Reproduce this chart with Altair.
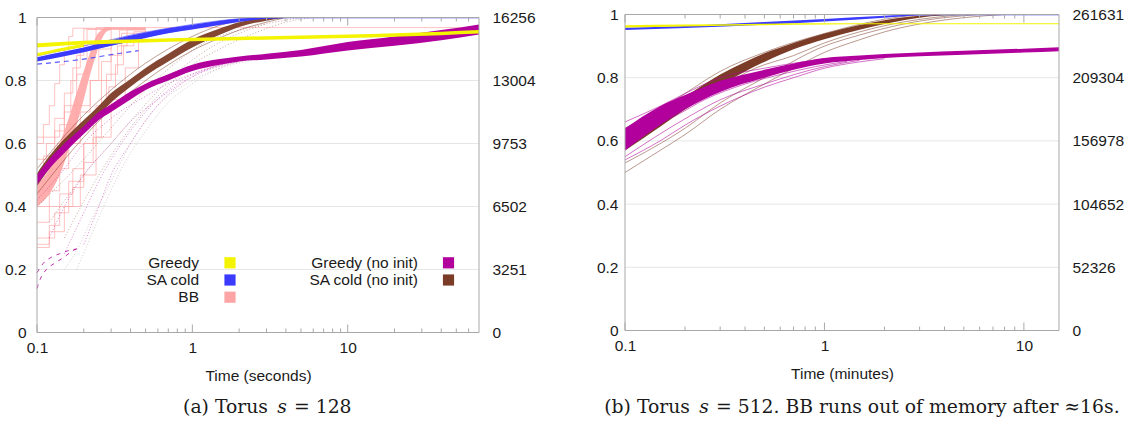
import altair as alt
import pandas as pd

FONT = "Liberation Sans"
SERIF = "DejaVu Serif"
TXT = "#1a1a1a"
AXC = "#a8a8a8"
GRIDC = "#e6e6e6"
FS = 15.5
CAP_FS = 18.8

C_GREEDY = "#f4f400"
C_SA = "#3b3bff"
C_BB = "#ffa4a4"
C_GRN = "#b1009b"
C_SAN = "#7b3c27"
C_GRAY = "#b8a0ac"

# ---------------- axes / text ----------------
Y_TICKS = [0, 0.2, 0.4, 0.6, 0.8, 1]
X_TICKS = [0.1, 1, 10]
A_RIGHT_LABELS = ["0", "3251", "6502", "9753", "13004", "16256"]
B_RIGHT_LABELS = ["0", "52326", "104652", "156978", "209304", "261631"]
A_MINOR = [0.2, 0.3, 0.4, 0.5, 0.6, 0.7, 0.8, 0.9, 2, 3, 4, 5, 6, 7, 8, 9, 20, 30, 40, 50, 60]
B_MINOR = [0.2, 0.3, 0.4, 0.5, 0.6, 0.7, 0.8, 0.9, 2, 3, 4, 5, 6, 7, 8, 9]
A_XMAX = 70
B_XMAX = 15
A_XTITLE = "Time (seconds)"
B_XTITLE = "Time (minutes)"
# caption pieces: text before the math variable, the (italic) variable, text after it
A_CAPTION_PARTS = ["(a) Torus", "s", "= 128"]
B_CAPTION_PARTS = ["(b) Torus", "s", "= 512. BB runs out of memory after \u224816s."]

LEGEND_LABELS_1 = ["Greedy", "SA cold", "BB"]
LEGEND_COLORS_1 = [C_GREEDY, C_SA, C_BB]
LEGEND_LABELS_2 = ["Greedy (no init)", "SA cold (no init)"]
LEGEND_COLORS_2 = [C_GRN, C_SAN]

# ---------------- panel (a) data ----------------
A_GREEDY_T = [0.1, 0.15, 0.2, 0.3, 0.5, 1, 2, 5, 10, 20, 40, 70]
A_GREEDY_LO = [0.905, 0.911, 0.914, 0.917, 0.921, 0.925, 0.928, 0.932, 0.935, 0.939, 0.944, 0.949]
A_GREEDY_HI = [0.918, 0.923, 0.926, 0.929, 0.932, 0.936, 0.939, 0.943, 0.946, 0.950, 0.955, 0.960]
A_GREEDY_RUN_T = [[0.1, 0.12, 0.15, 0.2]]
A_GREEDY_RUN_V = [[0.882, 0.890, 0.900, 0.912]]

A_SA_T = [0.1, 0.15, 0.2, 0.3, 0.5, 0.7, 1, 1.5, 2, 3, 4, 70]
A_SA_LO = [0.860, 0.877, 0.890, 0.910, 0.935, 0.950, 0.962, 0.976, 0.986, 0.996, 0.998, 0.998]
A_SA_HI = [0.874, 0.892, 0.905, 0.928, 0.952, 0.966, 0.977, 0.990, 0.996, 1.0, 1.0, 1.0]
A_SA_RUN_T = [[0.1, 0.13, 0.2, 0.3, 0.5, 0.8, 1.2, 2, 3.5],
              [0.1, 0.15, 0.25, 0.4, 0.7, 1, 1.5, 2.5]]
A_SA_RUN_V = [[0.865, 0.875, 0.893, 0.912, 0.938, 0.958, 0.973, 0.99, 1.0],
              [0.878, 0.897, 0.920, 0.944, 0.966, 0.978, 0.99, 1.0]]
A_SA_DASH_T = [[0.1, 0.2, 0.3, 0.45]]
A_SA_DASH_V = [[0.852, 0.868, 0.882, 0.895]]

A_SAN_T = [0.1, 0.12, 0.15, 0.2, 0.25, 0.3, 0.4, 0.5, 0.7, 1, 1.5, 2, 3, 4]
A_SAN_LO = [0.465, 0.52, 0.58, 0.64, 0.69, 0.73, 0.78, 0.815, 0.86, 0.905, 0.945, 0.97, 0.99, 0.999]
A_SAN_HI = [0.505, 0.56, 0.615, 0.675, 0.72, 0.76, 0.805, 0.84, 0.885, 0.93, 0.965, 0.985, 0.998, 1.0]
A_SAN_RUN_T = [[0.1, 0.2, 0.3, 0.5, 0.7, 1, 1.5, 2.5],
               [0.1, 0.2, 0.3, 0.5, 0.7, 1, 1.5, 2, 3, 4]]
A_SAN_RUN_V = [[0.52, 0.69, 0.77, 0.855, 0.90, 0.94, 0.975, 1.0],
               [0.44, 0.62, 0.71, 0.80, 0.85, 0.895, 0.935, 0.96, 0.985, 1.0]]
A_SAN_DOT_T = [[0.1, 0.2, 0.3, 0.5, 0.8, 1.2, 2, 3, 5],
               [0.15, 0.25, 0.4, 0.6, 1, 1.5, 2.5, 4, 6],
               [0.12, 0.2, 0.3, 0.45, 0.7, 1.1, 1.8, 3]]
A_SAN_DOT_V = [[0.40, 0.55, 0.65, 0.77, 0.86, 0.92, 0.96, 0.98, 1.0],
               [0.30, 0.50, 0.65, 0.75, 0.85, 0.90, 0.95, 0.985, 1.0],
               [0.35, 0.50, 0.60, 0.70, 0.80, 0.88, 0.94, 0.98]]

A_GRN_T = [0.1, 0.12, 0.15, 0.2, 0.25, 0.3, 0.4, 0.5, 0.7, 1, 1.5, 2, 3, 5, 10, 20, 40, 70]
A_GRN_LO = [0.47, 0.52, 0.57, 0.63, 0.675, 0.70, 0.74, 0.77, 0.80, 0.83, 0.85, 0.86, 0.867, 0.876, 0.895, 0.91, 0.928, 0.946]
A_GRN_HI = [0.50, 0.55, 0.60, 0.655, 0.70, 0.725, 0.765, 0.79, 0.82, 0.85, 0.868, 0.876, 0.885, 0.897, 0.922, 0.94, 0.96, 0.978]
A_GRN_DOT_T = [[0.1, 0.15, 0.2, 0.3, 0.5, 0.7, 1, 1.5, 2],
               [0.12, 0.15, 0.2, 0.3, 0.4, 0.6, 0.9, 1.3, 2],
               [0.15, 0.2, 0.25, 0.35, 0.5, 0.7, 1, 1.5, 2.5],
               [0.2, 0.25, 0.3, 0.4, 0.55, 0.8, 1.2, 1.8, 3]]
A_GRN_DOT_V = [[0.42, 0.52, 0.60, 0.68, 0.75, 0.79, 0.82, 0.845, 0.86],
               [0.30, 0.40, 0.50, 0.60, 0.67, 0.74, 0.80, 0.84, 0.86],
               [0.25, 0.38, 0.48, 0.60, 0.70, 0.77, 0.82, 0.85, 0.87],
               [0.28, 0.40, 0.50, 0.60, 0.70, 0.78, 0.83, 0.86, 0.875]]
A_GRN_DASH_T = [[0.1, 0.105, 0.115, 0.13, 0.15, 0.17, 0.19],
                [0.1, 0.11, 0.125, 0.14, 0.16, 0.18]]
A_GRN_DASH_V = [[0.14, 0.17, 0.20, 0.22, 0.24, 0.26, 0.27],
                [0.19, 0.22, 0.24, 0.25, 0.26, 0.265]]
A_GRAY_DOT_T = [[0.15, 0.18, 0.22, 0.3, 0.4, 0.6, 1, 1.8, 3],
                [0.18, 0.22, 0.28, 0.35, 0.5, 0.7, 1, 1.5, 2.5]]
A_GRAY_DOT_V = [[0.20, 0.26, 0.35, 0.48, 0.60, 0.72, 0.80, 0.85, 0.87],
                [0.20, 0.30, 0.42, 0.52, 0.64, 0.73, 0.79, 0.84, 0.87]]

A_BB_T = [0.1, 0.12, 0.14, 0.16, 0.18, 0.2, 0.22, 0.24, 0.26, 0.28, 0.3]
A_BB_LO = [0.40, 0.44, 0.50, 0.58, 0.66, 0.74, 0.82, 0.88, 0.93, 0.955, 0.96]
A_BB_HI = [0.47, 0.52, 0.60, 0.68, 0.76, 0.83, 0.89, 0.94, 0.96, 0.968, 0.968]
A_BB_RUN_T = [[0.1, 0.11, 0.12, 0.13, 0.14, 0.15, 0.16, 0.17, 0.5],
              [0.1, 0.115, 0.13, 0.15, 0.17, 0.19, 0.21, 0.5],
              [0.1, 0.12, 0.14, 0.16, 0.19, 0.22, 0.25, 0.3, 0.5],
              [0.1, 0.13, 0.16, 0.2, 0.24, 0.28, 0.33, 0.38, 0.5],
              [0.1, 0.12, 0.15, 0.19, 0.24, 0.3, 0.37, 0.45, 0.5],
              [0.1, 0.11, 0.13, 0.15, 0.18, 0.21, 0.24, 0.5],
              [0.1, 0.14, 0.18, 0.22, 0.26, 0.3, 0.34, 0.5],
              [0.1, 0.12, 0.14, 0.17, 0.2, 0.23, 0.26, 0.29, 0.32, 0.36, 0.42, 0.5],
              [0.1, 0.12, 0.135, 0.15, 0.165, 0.18, 0.2, 0.5],
              [0.1, 0.14, 0.17, 0.2, 0.23, 0.26, 0.3, 0.35, 0.5],
              [0.27, 70]]
A_BB_RUN_V = [[0.60, 0.66, 0.72, 0.79, 0.85, 0.90, 0.94, 0.966, 0.966],
              [0.55, 0.60, 0.68, 0.76, 0.84, 0.91, 0.962, 0.962],
              [0.35, 0.45, 0.52, 0.60, 0.70, 0.80, 0.90, 0.965, 0.965],
              [0.30, 0.38, 0.48, 0.60, 0.72, 0.82, 0.91, 0.962, 0.962],
              [0.27, 0.32, 0.40, 0.50, 0.62, 0.74, 0.84, 0.93, 0.958],
              [0.50, 0.56, 0.64, 0.72, 0.82, 0.90, 0.968, 0.968],
              [0.62, 0.66, 0.72, 0.80, 0.86, 0.92, 0.96, 0.96],
              [0.28, 0.34, 0.40, 0.46, 0.54, 0.62, 0.70, 0.78, 0.85, 0.91, 0.955, 0.955],
              [0.45, 0.52, 0.60, 0.70, 0.80, 0.88, 0.964, 0.964],
              [0.40, 0.44, 0.52, 0.60, 0.70, 0.80, 0.88, 0.95, 0.96],
              [0.968, 0.968]]

# ---------------- panel (b) data ----------------
B_GREEDY_T = [0.1, 0.2, 0.5, 1, 2, 15]
B_GREEDY_LO = [0.959, 0.962, 0.966, 0.968, 0.969, 0.969]
B_GREEDY_HI = [0.966, 0.968, 0.971, 0.972, 0.972, 0.972]

B_SA_T = [0.1, 0.2, 0.5, 1, 2, 3, 4, 15]
B_SA_LO = [0.951, 0.957, 0.968, 0.978, 0.990, 0.997, 0.998, 0.998]
B_SA_HI = [0.958, 0.964, 0.976, 0.986, 0.996, 1.0, 1.0, 1.0]

B_SAN_T = [0.1, 0.15, 0.2, 0.3, 0.4, 0.5, 0.7, 1, 1.5, 2, 3, 5, 15]
B_SAN_LO = [0.57, 0.645, 0.70, 0.775, 0.82, 0.85, 0.89, 0.922, 0.952, 0.97, 0.99, 0.999, 0.999]
B_SAN_HI = [0.62, 0.69, 0.74, 0.81, 0.85, 0.877, 0.91, 0.94, 0.967, 0.982, 0.996, 1.0, 1.0]
B_SAN_RUN_T = [[0.1, 0.15, 0.2, 0.3, 0.5, 1, 2, 3],
               [0.1, 0.15, 0.2, 0.3, 0.5, 0.7, 1, 1.5, 2, 3, 5, 8],
               [0.1, 0.2, 0.3, 0.5, 1, 1.5, 2.5, 4, 6],
               [0.1, 0.13, 0.2, 0.3, 0.45, 0.7, 1, 1.5, 2.2, 3.5, 5]]
B_SAN_RUN_V = [[0.64, 0.70, 0.75, 0.82, 0.88, 0.94, 0.985, 1.0],
               [0.50, 0.57, 0.62, 0.70, 0.78, 0.83, 0.88, 0.92, 0.945, 0.97, 0.99, 1.0],
               [0.53, 0.64, 0.72, 0.80, 0.90, 0.935, 0.97, 0.99, 1.0],
               [0.60, 0.63, 0.70, 0.77, 0.83, 0.87, 0.91, 0.945, 0.97, 0.99, 1.0]]

B_GRN_T = [0.1, 0.15, 0.2, 0.3, 0.5, 0.7, 1, 1.5, 2, 3, 5, 10, 15]
B_GRN_LO = [0.57, 0.65, 0.70, 0.755, 0.80, 0.825, 0.845, 0.856, 0.862, 0.868, 0.873, 0.880, 0.884]
B_GRN_HI = [0.64, 0.71, 0.745, 0.79, 0.825, 0.845, 0.862, 0.870, 0.875, 0.880, 0.885, 0.892, 0.896]
B_GRN_RUN_T = [[0.1, 0.15, 0.2, 0.3, 0.5, 0.7, 1, 1.5, 2],
               [0.1, 0.2, 0.3, 0.5, 1, 1.5],
               [0.1, 0.15, 0.2, 0.3, 0.5, 1],
               [0.1, 0.13, 0.18, 0.25, 0.4, 0.6, 0.9, 1.3]]
B_GRN_RUN_V = [[0.54, 0.60, 0.65, 0.71, 0.77, 0.80, 0.83, 0.85, 0.86],
               [0.55, 0.67, 0.73, 0.78, 0.835, 0.855],
               [0.66, 0.71, 0.75, 0.80, 0.83, 0.86],
               [0.60, 0.64, 0.68, 0.73, 0.78, 0.81, 0.835, 0.852]]


# ---------------- helpers ----------------
def runs_frame(ts, vs):
    rows = []
    for i, (t, v) in enumerate(zip(ts, vs)):
        for a, b in zip(t, v):
            rows.append({"run": i, "t": a, "v": b})
    return pd.DataFrame(rows)


def lines_layer(ts, vs, color, xs, ys, width=0.7, opacity=0.9, dash=None, interp="monotone"):
    kw = dict(color=color, strokeWidth=width, opacity=opacity, interpolate=interp)
    if dash:
        kw["strokeDash"] = dash
    return alt.Chart(runs_frame(ts, vs)).mark_line(**kw).encode(
        x=alt.X("t:Q", scale=xs, axis=None),
        y=alt.Y("v:Q", scale=ys, axis=None),
        detail="run:N",
    )


def band_layer(t, lo, hi, color, xs, ys, opacity=1.0, interp="monotone"):
    return alt.Chart(pd.DataFrame({"t": t, "lo": lo, "hi": hi})).mark_area(
        color=color, opacity=opacity, interpolate=interp
    ).encode(
        x=alt.X("t:Q", scale=xs, axis=None),
        y=alt.Y("lo:Q", scale=ys, axis=None),
        y2="hi:Q",
    )


def frame_layers(right_labels, xtitle, xmax, xs, ys, lab_pad_left):
    xaxis = alt.Axis(values=X_TICKS, format="~g", title=xtitle, labelFont=FONT, labelFontSize=FS,
                     labelColor=TXT, titleFont=FONT, titleFontSize=FS, titleFontWeight="normal",
                     titleColor=TXT, labelPadding=8, titlePadding=12, ticks=False, grid=False,
                     domain=False, labelFlush=False, orient="bottom")
    laxis = alt.Axis(orient="left", values=Y_TICKS, format="~g", title=None, labelFont=FONT,
                     labelFontSize=FS, labelColor=TXT, labelPadding=lab_pad_left, ticks=False,
                     domain=False, grid=False)
    expr = "[" + ",".join("'%s'" % s for s in right_labels) + "][round(datum.value*%d)]" % (len(right_labels) - 1)
    raxis = alt.Axis(orient="right", values=Y_TICKS, labelExpr=expr, title=None, labelFont=FONT,
                     labelFontSize=FS, labelColor=TXT, labelPadding=13, ticks=False,
                     domain=False, grid=False)
    ydf = pd.DataFrame({"v": Y_TICKS, "t0": [0.1] * len(Y_TICKS), "t1": [xmax] * len(Y_TICKS)})
    # gridlines carry both the x axis and the left y axis (both scales present)
    grid = alt.Chart(ydf).mark_rule(color=GRIDC, strokeWidth=1).encode(
        x=alt.X("t0:Q", scale=xs, axis=xaxis), x2="t1:Q",
        y=alt.Y("v:Q", scale=ys, axis=laxis))
    right = alt.Chart(ydf).mark_rule(opacity=0).encode(
        x=alt.X("t0:Q", scale=xs, axis=None), x2="t1:Q",
        y=alt.Y("v:Q", scale=ys, axis=raxis))
    return grid, right


def border_layers(H, ytop, xmax, minor, xs, ys):
    hb = alt.Chart(pd.DataFrame({"v": [0, 1], "t0": [0.1, 0.1], "t1": [xmax, xmax]})).mark_rule(
        color=AXC, strokeWidth=1).encode(
        x=alt.X("t0:Q", scale=xs, axis=None), x2="t1:Q",
        y=alt.Y("v:Q", scale=ys, axis=None))
    vb = alt.Chart(pd.DataFrame({"t": [0.1, xmax], "v0": [0, 0], "v1": [1, 1]})).mark_rule(
        color=AXC, strokeWidth=1).encode(
        x=alt.X("t:Q", scale=xs, axis=None),
        y=alt.Y("v0:Q", scale=ys, axis=None), y2="v1:Q")
    mdf = pd.DataFrame({"t": minor})
    Mdf = pd.DataFrame({"t": X_TICKS})
    mb = alt.Chart(mdf).mark_rule(color=AXC, strokeWidth=1).encode(
        x=alt.X("t:Q", scale=xs, axis=None), y=alt.value(H), y2=alt.value(H - 4))
    mt = alt.Chart(mdf).mark_rule(color=AXC, strokeWidth=1).encode(
        x=alt.X("t:Q", scale=xs, axis=None), y=alt.value(ytop), y2=alt.value(ytop + 4))
    Mb = alt.Chart(Mdf).mark_rule(color=AXC, strokeWidth=1).encode(
        x=alt.X("t:Q", scale=xs, axis=None), y=alt.value(H), y2=alt.value(H - 8))
    Mt = alt.Chart(Mdf).mark_rule(color=AXC, strokeWidth=1).encode(
        x=alt.X("t:Q", scale=xs, axis=None), y=alt.value(ytop), y2=alt.value(ytop + 8))
    return [hb, vb, mb, mt, Mb, Mt]


def caption_layers(parts, x_pre_end, x_var, x_post_start, y):
    pre, var, post = parts
    specs = [(pre, "right", x_pre_end, "normal"),
             (var, "center", x_var, "italic"),
             (post, "left", x_post_start, "normal")]
    out = []
    for text, align, x, style in specs:
        out.append(alt.Chart(pd.DataFrame({"c": [text]})).mark_text(
            font=SERIF, fontSize=CAP_FS, color=TXT, align=align, baseline="middle",
            fontStyle=style
        ).encode(text="c:N", x=alt.value(x), y=alt.value(y)))
    return out


def legend_layers(labels, colors, tx, sx, y0, dy):
    out = []
    for i, (lab, col) in enumerate(zip(labels, colors)):
        d = pd.DataFrame({"label": [lab]})
        out.append(alt.Chart(d).mark_text(font=FONT, fontSize=FS, color=TXT, align="right",
                                          baseline="middle").encode(
            text="label:N", x=alt.value(tx), y=alt.value(y0 + i * dy)))
        out.append(alt.Chart(d).mark_square(size=125, color=col, opacity=1).encode(
            x=alt.value(sx), y=alt.value(y0 + i * dy)))
    return out


# ---------------- panel (a) ----------------
WA, HA, TA = 442, 318, 3
xsa = alt.Scale(type="log", domain=[0.1, A_XMAX], nice=False)
ysa = alt.Scale(domain=[0, 1], nice=False, zero=False, range=[HA, TA])
grid_a, right_a = frame_layers(A_RIGHT_LABELS, A_XTITLE, A_XMAX, xsa, ysa, 11)

layers_a = [grid_a, right_a]
layers_a += [
    lines_layer(A_BB_RUN_T, A_BB_RUN_V, C_BB, xsa, ysa, width=0.8, opacity=0.85, interp="step-after"),
    band_layer(A_BB_T, A_BB_LO, A_BB_HI, C_BB, xsa, ysa, opacity=0.9),
    lines_layer(A_GRAY_DOT_T, A_GRAY_DOT_V, C_GRAY, xsa, ysa, width=0.8, opacity=0.7, dash=[1, 2]),
    lines_layer(A_SAN_DOT_T, A_SAN_DOT_V, C_SAN, xsa, ysa, width=0.8, opacity=0.55, dash=[1, 2]),
    lines_layer(A_SAN_RUN_T, A_SAN_RUN_V, C_SAN, xsa, ysa, width=0.7, opacity=0.7),
    band_layer(A_SAN_T, A_SAN_LO, A_SAN_HI, C_SAN, xsa, ysa, opacity=0.95),
    lines_layer(A_GRN_DOT_T, A_GRN_DOT_V, C_GRN, xsa, ysa, width=0.8, opacity=0.6, dash=[1, 2]),
    lines_layer(A_GRN_DASH_T, A_GRN_DASH_V, C_GRN, xsa, ysa, width=1.0, opacity=0.8, dash=[4, 5]),
    band_layer(A_GRN_T, A_GRN_LO, A_GRN_HI, C_GRN, xsa, ysa),
    lines_layer(A_SA_DASH_T, A_SA_DASH_V, C_SA, xsa, ysa, width=1.2, opacity=0.85, dash=[5, 4]),
    lines_layer(A_SA_RUN_T, A_SA_RUN_V, C_SA, xsa, ysa, width=0.7, opacity=0.8),
    band_layer(A_SA_T, A_SA_LO, A_SA_HI, C_SA, xsa, ysa),
    lines_layer(A_GREEDY_RUN_T, A_GREEDY_RUN_V, C_GREEDY, xsa, ysa, width=3, opacity=1),
    band_layer(A_GREEDY_T, A_GREEDY_LO, A_GREEDY_HI, C_GREEDY, xsa, ysa),
]
layers_a += border_layers(HA, TA, A_XMAX, A_MINOR, xsa, ysa)
layers_a += legend_layers(LEGEND_LABELS_1, LEGEND_COLORS_1, 162, 193, 248.3, 17.2)
layers_a += legend_layers(LEGEND_LABELS_2, LEGEND_COLORS_2, 381, 411.5, 248.3, 17.2)
layers_a += caption_layers(A_CAPTION_PARTS, 231, 245, 257, 392)

panel_a = alt.layer(*layers_a).properties(width=WA, height=HA).resolve_axis(
    x="independent", y="independent")

# ---------------- panel (b) ----------------
WB, HB, TB = 434, 316, 0
xsb = alt.Scale(type="log", domain=[0.1, B_XMAX], nice=False)
ysb = alt.Scale(domain=[0, 1], nice=False, zero=False)
grid_b, right_b = frame_layers(B_RIGHT_LABELS, B_XTITLE, B_XMAX, xsb, ysb, 7)

layers_b = [grid_b, right_b]
layers_b += [
    lines_layer(B_SAN_RUN_T, B_SAN_RUN_V, C_SAN, xsb, ysb, width=0.7, opacity=0.75),
    band_layer(B_SAN_T, B_SAN_LO, B_SAN_HI, C_SAN, xsb, ysb),
    lines_layer(B_GRN_RUN_T, B_GRN_RUN_V, C_GRN, xsb, ysb, width=0.7, opacity=0.8),
    band_layer(B_GRN_T, B_GRN_LO, B_GRN_HI, C_GRN, xsb, ysb),
    band_layer(B_SA_T, B_SA_LO, B_SA_HI, C_SA, xsb, ysb),
    band_layer(B_GREEDY_T, B_GREEDY_LO, B_GREEDY_HI, C_GREEDY, xsb, ysb),
]
layers_b += border_layers(HB, TB, B_XMAX, B_MINOR, xsb, ysb)
layers_b += caption_layers(B_CAPTION_PARTS, 65, 79, 91, 392)

panel_b = alt.layer(*layers_b).properties(width=WB, height=HB).resolve_axis(
    x="independent", y="independent")

chart = alt.hconcat(panel_a, panel_b, spacing=146, bounds="flush").properties(
    padding={"left": 4, "top": 7.5, "right": 4, "bottom": 3},
    background="white",
).configure_view(stroke=None)

chart.save("out.html", embed_options={"renderer": "svg", "actions": False})
